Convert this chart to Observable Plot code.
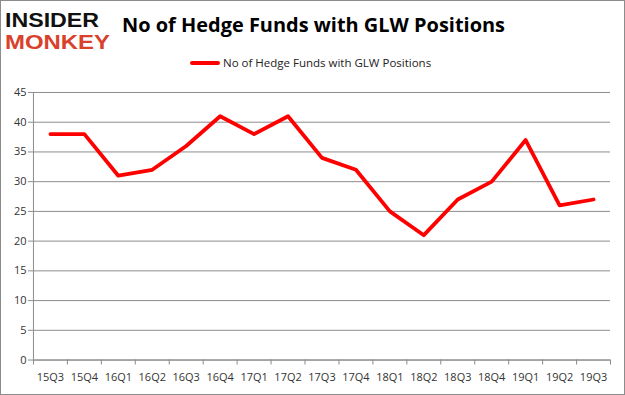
<!DOCTYPE html>
<html><head><meta charset="utf-8">
<script src="https://cdn.jsdelivr.net/npm/d3@7"></script>
<script src="https://cdn.jsdelivr.net/npm/@observablehq/plot@0.6"></script>
<style>
html,body{margin:0;padding:0;background:#fff;}
#wrap{position:relative;width:625px;height:395px;box-sizing:border-box;border:1px solid #8c8c8c;overflow:hidden;font-family:"Open Sans",sans-serif;}
#head{position:absolute;left:-1px;top:-1px;}
#legend{position:absolute;left:189px;top:54px;font-size:11.5px;color:#222;display:flex;align-items:center;white-space:nowrap;}
#legend .sw{width:30px;height:4px;background:#ff0000;border-radius:2px;margin-right:3px;}
#chart{position:absolute;left:-1px;top:79px;}
</style></head>
<body><div id="wrap">
<svg id="head" width="625" height="52">
  <text x="5" y="26.5" textLength="94" lengthAdjust="spacingAndGlyphs" font-family="Liberation Sans" font-weight="bold" font-size="20" fill="#111">INSIDER</text>
  <text x="5" y="49" textLength="105" lengthAdjust="spacingAndGlyphs" font-family="Liberation Sans" font-weight="bold" font-size="20" fill="#d9412b">MONKEY</text>
  <text x="122" y="32" textLength="383" lengthAdjust="spacingAndGlyphs" font-family="Open Sans" font-weight="bold" font-size="20" fill="#000">No of Hedge Funds with GLW Positions</text>
</svg>
<div id="legend"><div class="sw"></div><span>No of Hedge Funds with GLW Positions</span></div>
<div id="chart"></div>
</div>
<script>
const quarters = ["15Q3","15Q4","16Q1","16Q2","16Q3","16Q4","17Q1","17Q2","17Q3","17Q4","18Q1","18Q2","18Q3","18Q4","19Q1","19Q2","19Q3"];
const funds = [38,38,31,32,36,41,38,41,34,32,25,21,27,30,37,26,27];
const yTicks = [0,5,10,15,20,25,30,35,40,45];

const data = quarters.map((q,i)=>({i, q, v: funds[i]}));
const edges = d3.range(-0.5, quarters.length, 1);

const chart = Plot.plot({
  width: 625, height: 315,
  marginLeft: 33, marginRight: 14, marginTop: 12, marginBottom: 35,
  style: {fontFamily: "Open Sans, sans-serif", fontSize: "11px", color: "#333", background: "transparent"},
  x: {type: "linear", domain: [-0.5, quarters.length - 0.5]},
  y: {domain: [0, 45]},
  marks: [
    Plot.gridY(yTicks, {stroke: "#8c8c8c", strokeOpacity: 1, strokeWidth: 1}),
    Plot.ruleX([-0.5], {stroke: "#8c8c8c"}),
    Plot.ruleY([0], {stroke: "#8c8c8c"}),
    Plot.axisY(yTicks, {tickSize: 5, stroke: "#8c8c8c", tickPadding: 2, fill: "#333", label: null}),
    Plot.axisX(edges, {tickSize: 5, stroke: "#8c8c8c", tickFormat: () => "", label: null}),
    Plot.axisX(d3.range(quarters.length), {tickSize: 0, tickPadding: 13, tickFormat: i => quarters[i], fill: "#333", label: null}),
    Plot.line(data, {x: "i", y: "v", stroke: "#ff0000", strokeWidth: 3.8})
  ]
});
document.getElementById("chart").appendChild(chart);
</script>
</body></html>
